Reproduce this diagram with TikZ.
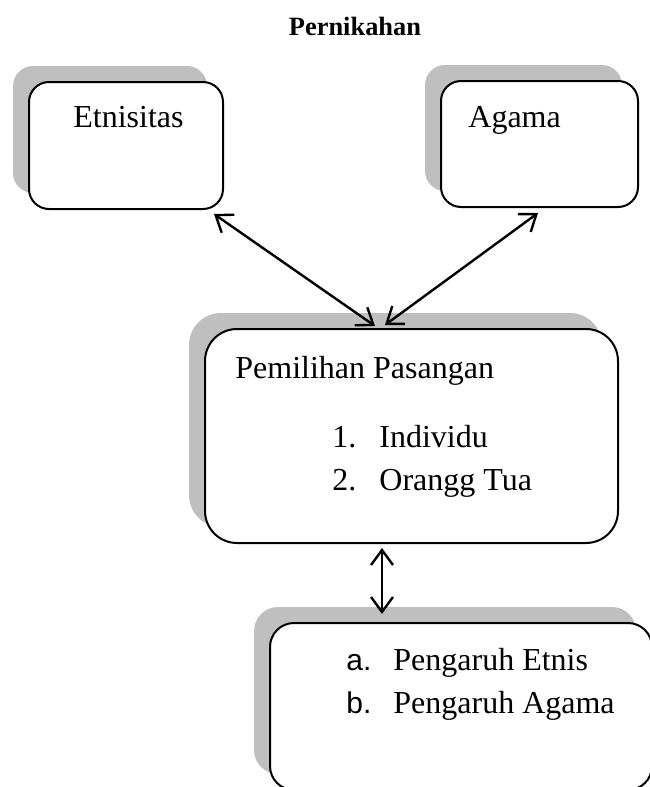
\documentclass[tikz,border=0pt]{standalone}
\usepackage{fontspec}
\setmainfont{Liberation Serif}
\newfontfamily\arialfont{Liberation Sans}
\usetikzlibrary{arrows.meta, shadows}

\begin{document}
\begin{tikzpicture}[x=0.5pt,y=-0.5pt,
    box/.style={draw, line width=1pt, fill=white, inner sep=0pt,
        general shadow={fill=black!25, shadow xshift=-8pt, shadow yshift=8pt}},
    txt/.style={anchor=base west, inner sep=0pt, font=\fontsize{16}{19}\selectfont},
    link/.style={{Straight Barb[length=7.5pt,width=11pt]}-{Straight Barb[length=7.5pt,width=11pt]}, line width=1.2pt}]
    \useasboundingbox (0,0) rectangle (649,787);

    \node[anchor=base, inner sep=0pt, font=\bfseries\fontsize{13.2}{16}\selectfont] (title) at (355,35) {Pernikahan};

    % boxes
    \node[box, rounded corners=10pt, minimum width=97pt, minimum height=63.5pt] (etnis) at (126,145.5) {};
    \node[box, rounded corners=10pt, minimum width=98.5pt, minimum height=63pt] (agama) at (539.5,144) {};
    \node[box, rounded corners=16pt, minimum width=206.5pt, minimum height=107pt] (pilih) at (411.5,436) {};
    \node[box, rounded corners=12pt, minimum width=191pt, minimum height=83.5pt] (pengaruh) at (461,706.5) {};

    % texts
    \node[txt] (etnistxt) at (73,127) {Etnisitas};
    \node[txt] (agamatxt) at (468,127) {Agama};
    \node[txt] (pilihtxt) at (235,378) {Pemilihan Pasangan};
    \node[txt] (num1) at (332,447) {1.};
    \node[txt] (item1) at (379,447) {Individu};
    \node[txt] (num2) at (332,490) {2.};
    \node[txt] (item2) at (379,490) {Orangg Tua};
    \node[txt, font=\arialfont\fontsize{15}{18}\selectfont] (numa) at (346,670) {a.};
    \node[txt] (itema) at (393,670) {Pengaruh Etnis};
    \node[txt, font=\arialfont\fontsize{15}{18}\selectfont] (numb) at (346,713) {b.};
    \node[txt] (itemb) at (393,713) {Pengaruh Agama};

    % connectors
    \coordinate (vline) at (382,0);
    \draw[link] ([shift={(-10,4)}]etnis.south east) -- ([shift={(-36.5,-2)}]pilih.north);
    \draw[link] ([shift={(-1.5,5)}]agama.south) -- ([shift={(-26.5,-3)}]pilih.north);
    \draw[link, shorten <=2pt, shorten >=4pt] (pilih.south -| vline) -- (pengaruh.north -| vline);
\end{tikzpicture}
\end{document}
